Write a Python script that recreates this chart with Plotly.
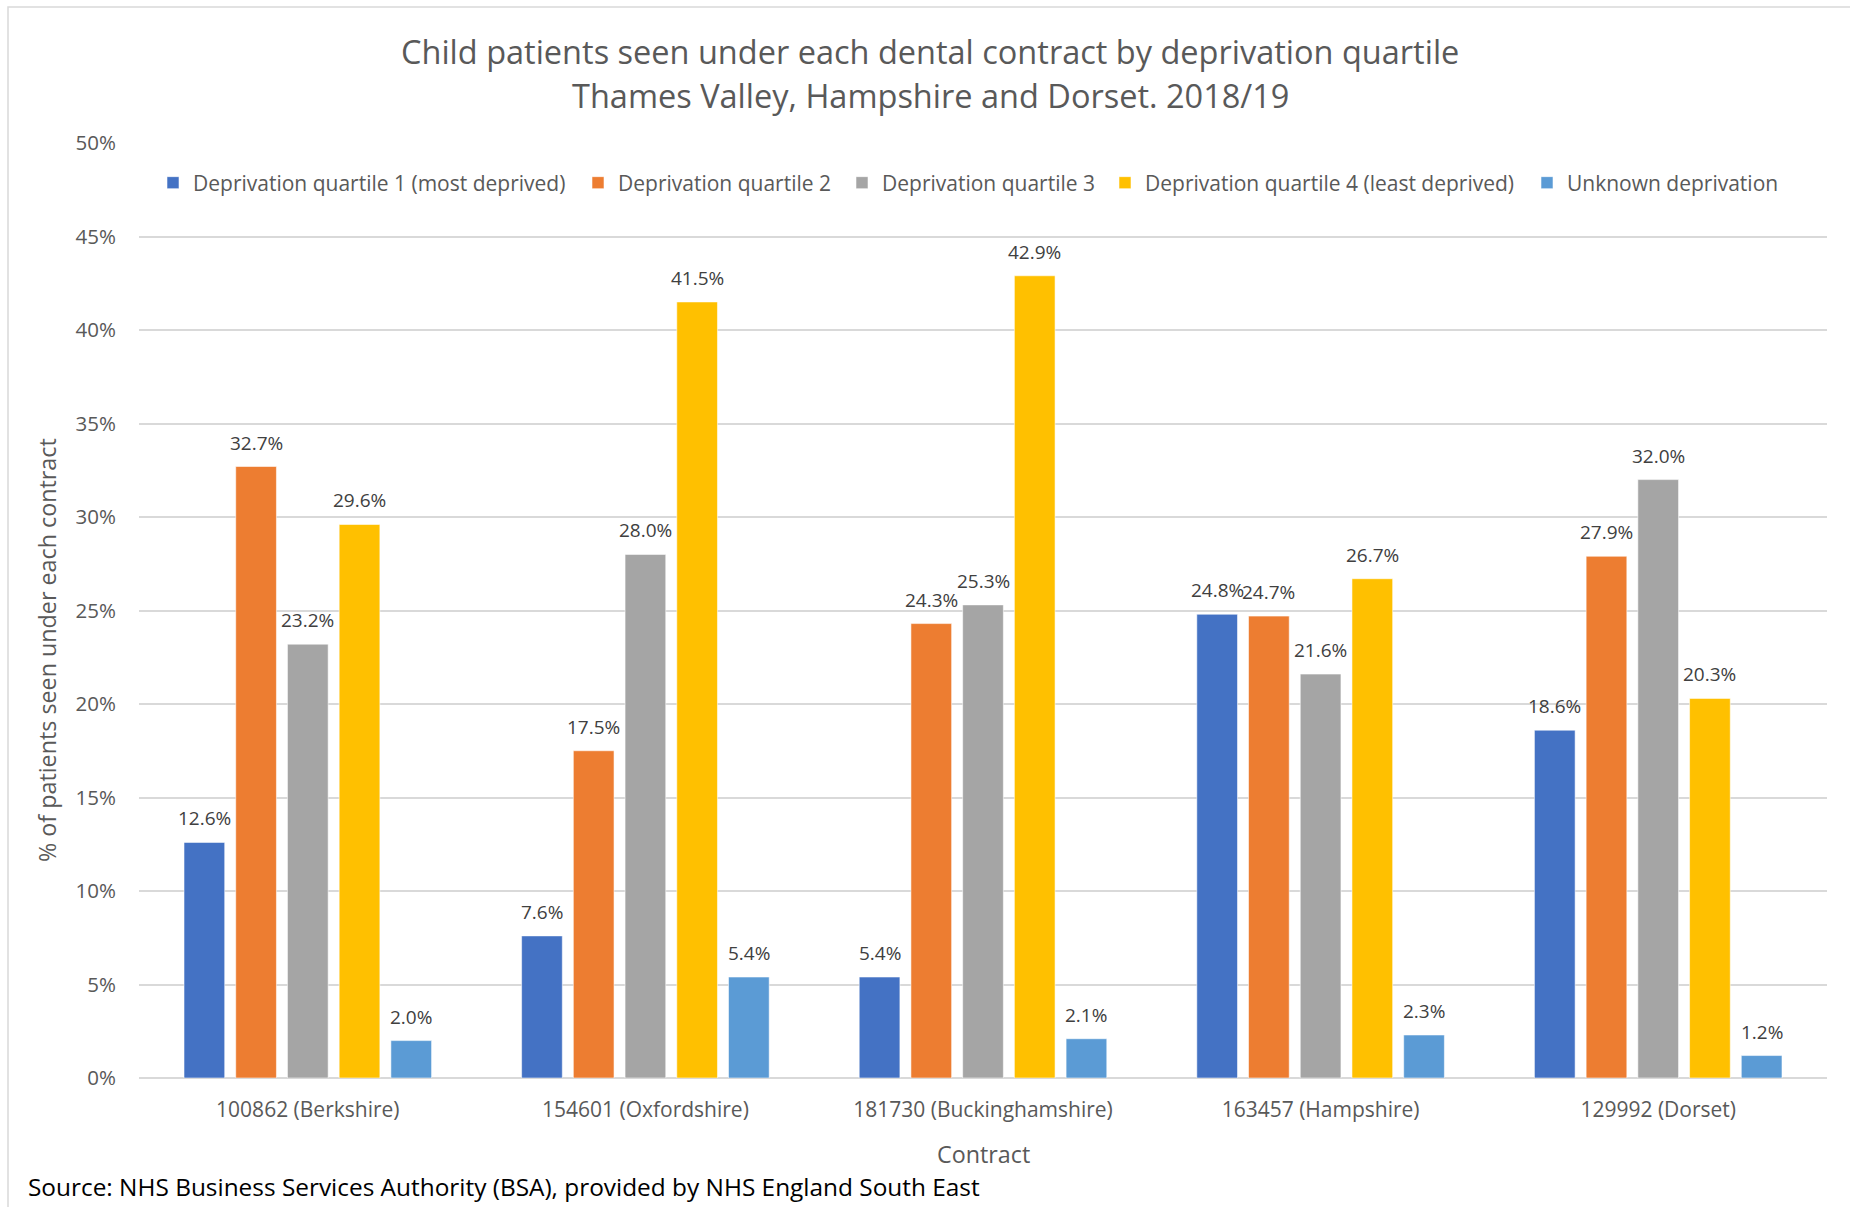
import plotly.graph_objects as go

# Contracts (x categories) and the share of child patients per deprivation quartile (%)
contracts = [
    "100862 (Berkshire)",
    "154601 (Oxfordshire)",
    "181730 (Buckinghamshire)",
    "163457 (Hampshire)",
    "129992 (Dorset)",
]
quartile_1 = [12.6, 7.6, 5.4, 24.8, 18.6]
quartile_2 = [32.7, 17.5, 24.3, 24.7, 27.9]
quartile_3 = [23.2, 28.0, 25.3, 21.6, 32.0]
quartile_4 = [29.6, 41.5, 42.9, 26.7, 20.3]
unknown = [2.0, 5.4, 2.1, 2.3, 1.2]

series_names = [
    "Deprivation quartile 1 (most deprived)",
    "Deprivation quartile 2",
    "Deprivation quartile 3",
    "Deprivation quartile 4 (least deprived)",
    "Unknown deprivation",
]
series_values = [quartile_1, quartile_2, quartile_3, quartile_4, unknown]
series_colors = ["#4472C4", "#ED7D31", "#A5A5A5", "#FFC000", "#5B9BD5"]

y_ticks = [0, 5, 10, 15, 20, 25, 30, 35, 40, 45, 50]

# Page geometry (pixels)
W, H = 1850, 1207
M_L, M_R, M_T, M_B = 139, 23, 143, 129
PLOT_W = W - M_L - M_R
PLOT_H = H - M_T - M_B
BARGAP = 0.234
BARGROUPGAP = 0.213
SLOT = PLOT_W / len(contracts) * (1 - BARGAP) / len(series_names)

FONT = "Open Sans, Noto Sans, DejaVu Sans, sans-serif"
GREY_TEXT = "#595959"
LABEL_TEXT = "#404040"
GRID = "#D9D9D9"

# Legend square positions (left edge, px) for each series
legend_left = [167, 592, 856, 1119, 1541]

fig = go.Figure()
legend_ids = ["legend", "legend2", "legend3", "legend4", "legend5"]
for name, vals, col, lid in zip(series_names, series_values, series_colors, legend_ids):
    fig.add_trace(go.Bar(
        name=name,
        x=contracts,
        y=vals,
        marker=dict(color=col, line=dict(color="rgba(255,255,255,0.55)", width=1)),
        legend=lid,
        hovertemplate="%{x}<br>" + name + ": %{y:.1f}%<extra></extra>",
    ))

# Value labels above each bar
annotations = []
for i, vals in enumerate(series_values):
    for cat, v in zip(contracts, vals):
        annotations.append(dict(
            x=cat, y=v, xref="x", yref="y",
            text=f"{v:.1f}%", showarrow=False,
            xshift=(i - 2) * SLOT, yshift=9, yanchor="bottom",
            font=dict(family=FONT, size=19, color=LABEL_TEXT),
        ))


def px_x(px):
    return (px - M_L) / PLOT_W


def px_y(py):
    return (H - M_B - py) / PLOT_H


# Title lines
annotations.append(dict(
    x=px_x(930), y=px_y(51), xref="paper", yref="paper", showarrow=False,
    text="Child patients seen under each dental contract by deprivation quartile",
    font=dict(family=FONT, size=32.5, color=GREY_TEXT), xanchor="center", yanchor="middle",
))
annotations.append(dict(
    x=px_x(930), y=px_y(95), xref="paper", yref="paper", showarrow=False,
    text="Thames Valley, Hampshire and Dorset. 2018/19",
    font=dict(family=FONT, size=32.5, color=GREY_TEXT), xanchor="center", yanchor="middle",
))
# Axis titles
annotations.append(dict(
    x=px_x(47), y=px_y(650), xref="paper", yref="paper", showarrow=False,
    text="% of patients seen under each contract", textangle=-90,
    font=dict(family=FONT, size=23.3, color=GREY_TEXT), xanchor="center", yanchor="middle",
))
annotations.append(dict(
    x=px_x(983), y=px_y(1154), xref="paper", yref="paper", showarrow=False,
    text="Contract",
    font=dict(family=FONT, size=23.3, color=GREY_TEXT), xanchor="center", yanchor="middle",
))
# Source note
annotations.append(dict(
    x=px_x(26), y=px_y(1186), xref="paper", yref="paper", showarrow=False,
    text="Source: NHS Business Services Authority (BSA), provided by NHS England South East",
    font=dict(family=FONT, size=24.4, color="#000000"), xanchor="left", yanchor="middle",
))

# Chart frame
shapes = [dict(
    type="rect", xref="paper", yref="paper",
    x0=px_x(8), x1=px_x(W + 20), y0=px_y(H + 20), y1=px_y(7),
    line=dict(color=GRID, width=1.5), fillcolor="rgba(0,0,0,0)", layer="below",
)]

layout_legends = {}
for lid, left in zip(legend_ids, legend_left):
    layout_legends[lid] = dict(
        x=(left - 14) / W, xref="container", xanchor="left",
        y=1 - 183 / H, yref="container", yanchor="middle",
        orientation="h", bgcolor="rgba(0,0,0,0)", borderwidth=0,
        font=dict(family=FONT, size=21, color=GREY_TEXT),
        itemwidth=30, itemclick=False, itemdoubleclick=False,
    )

fig.update_layout(
    width=W, height=H,
    margin=dict(l=M_L, r=M_R, t=M_T, b=M_B, autoexpand=False),
    paper_bgcolor="white", plot_bgcolor="white",
    barmode="group", bargap=BARGAP, bargroupgap=BARGROUPGAP,
    font=dict(family=FONT, color=GREY_TEXT),
    showlegend=True,
    annotations=annotations,
    shapes=shapes,
    **layout_legends,
)

fig.update_xaxes(
    showline=False, showgrid=False, zeroline=False, ticks="",
    tickfont=dict(family=FONT, size=21, color=GREY_TEXT),
    ticklabelstandoff=17,
)
fig.update_yaxes(
    range=[0, 50], tickvals=y_ticks, ticktext=[f"{t}%" for t in y_ticks],
    showgrid=True, gridcolor=GRID, gridwidth=1.5,
    zeroline=True, zerolinecolor=GRID, zerolinewidth=1.5,
    showline=False, ticks="",
    tickfont=dict(family=FONT, size=20.5, color=GREY_TEXT),
    ticklabelstandoff=22,
)

fig.write_html("out.html")
